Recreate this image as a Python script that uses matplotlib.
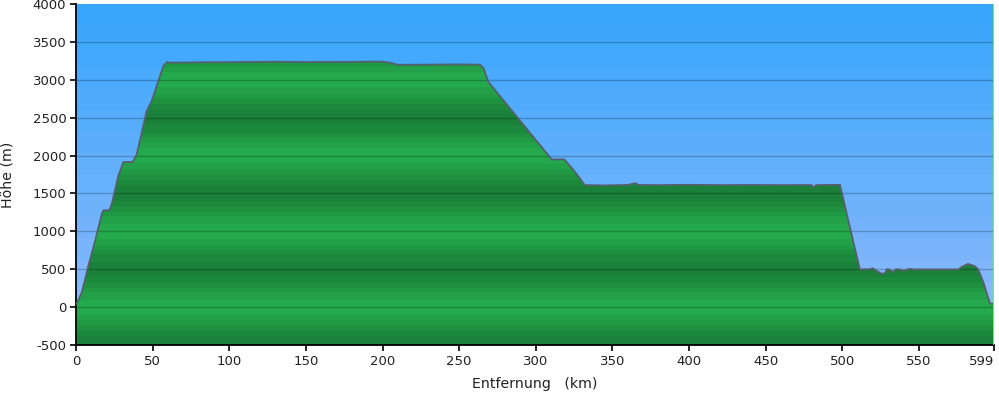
import numpy as np
import matplotlib
matplotlib.use("Agg")
import matplotlib.pyplot as plt
from matplotlib.colors import to_rgb
from matplotlib.patches import Polygon

# ---- data (distance km, altitude m) ----
dist_km = [0, 2, 4, 8, 12.4, 16.8, 17.8, 21.7, 23.3, 27.6, 30.9, 37, 39.6, 46.1, 49.4, 57, 59.2,
           62, 80, 100, 130, 150, 180, 195, 200, 205, 210, 230, 250, 263.6, 266, 269,
           310.4, 318.6, 325, 332,
           345, 360, 365, 367, 380, 400, 420, 440, 460, 480, 481, 483, 498.5,
           505, 511.5, 518, 520, 523, 525.7, 528, 529, 531, 533, 535, 537.6, 540, 542, 544, 547,
           555, 565, 575.7, 578, 582, 586.5, 588.7, 592, 596.4, 599]
alt_m = [40, 110, 210, 540, 870, 1225, 1275, 1280, 1355, 1730, 1915, 1915, 2015, 2585, 2720, 3180, 3233,
         3225, 3230, 3232, 3238, 3233, 3236, 3240, 3238, 3225, 3198, 3200, 3203, 3200, 3150, 2973,
         1949, 1949, 1800, 1610,
         1606, 1612, 1635, 1612, 1610, 1614, 1610, 1612, 1610, 1611, 1580, 1610, 1614,
         1050, 497, 500, 512, 470, 440, 450, 500, 495, 460, 500, 497, 480, 495, 505, 497,
         497, 497, 497, 530, 570, 540, 497, 330, 45, 45]

x_ticks = [0, 50, 100, 150, 200, 250, 300, 350, 400, 450, 500, 550, 599]
y_ticks = [-500, 0, 500, 1000, 1500, 2000, 2500, 3000, 3500, 4000]

XMIN, XMAX, YMIN, YMAX = 0, 599, -500, 4000

fig = plt.figure(figsize=(9.99, 3.94), dpi=100)
fig.patch.set_facecolor("white")
ax = fig.add_axes([76/999, 49/394, 918/999, 341/394])
ax.set_xlim(XMIN, XMAX)
ax.set_ylim(YMIN, YMAX)

# sky: stepped vertical gradient
n_sky = 16
top_c = np.array(to_rgb("#38a6fd"))
bot_c = np.array(to_rgb("#93bbfc"))
t = np.linspace(0, 1, n_sky)[:, None]
sky = (top_c * (1 - t) + bot_c * t)[:, None, :]
ax.imshow(sky, extent=[XMIN, XMAX, YMIN, YMAX], aspect="auto", origin="upper",
          interpolation="nearest", zorder=0)

# ground: stepped banded green, period 1000 m
n_g = 180
h = np.linspace(YMAX, YMIN, n_g)
light = np.array(to_rgb("#24aa4c"))
dark = np.array(to_rgb("#1b8039"))
w = 0.5 * (1 + np.cos(2 * np.pi * h / 1000.0))
w = np.round(w * 5) / 5
green = (light * w[:, None] + dark * (1 - w[:, None]))[:, None, :]
poly_xy = np.column_stack([np.r_[dist_km[0], dist_km, dist_km[-1]],
                           np.r_[YMIN, alt_m, YMIN]])
poly = Polygon(poly_xy, closed=True, facecolor="none", edgecolor="none",
               transform=ax.transData)
ax.add_patch(poly)
img = ax.imshow(green, extent=[XMIN, XMAX, YMIN, YMAX], aspect="auto", origin="upper",
                interpolation="nearest", zorder=1)
img.set_clip_path(poly)

# gridlines
for yv in y_ticks[1:-1]:
    ax.axhline(yv, color="black", alpha=0.22, lw=1.0, zorder=2)

# outline
ax.plot(dist_km, alt_m, color="#55606e", lw=1.3, zorder=3)

# right edge line
ax.axvline(XMAX, color="#7fe08a", lw=1.4, zorder=4)

# axes styling
for s in ["top", "right"]:
    ax.spines[s].set_visible(False)
ax.spines["left"].set_color("black")
ax.spines["bottom"].set_color("black")
ax.spines["left"].set_linewidth(1.3)
ax.spines["bottom"].set_linewidth(1.3)
ax.set_xticks(x_ticks)
ax.set_xticklabels([str(v) for v in x_ticks])
ax.set_yticks(y_ticks)
ax.set_yticklabels([str(v) for v in y_ticks])
ax.tick_params(axis="both", direction="out", length=4, width=1.2, color="black",
               labelsize=9.5, labelcolor="#222222", pad=3)
ax.get_xticklabels()[-1].set_horizontalalignment("right")
ax.set_xlabel("Entfernung   (km)", fontsize=10.2, color="#222222", labelpad=7)
ax.set_ylabel("Höhe (m)", fontsize=10.2, color="#222222", labelpad=13)

fig.savefig("out.png", dpi=100)
